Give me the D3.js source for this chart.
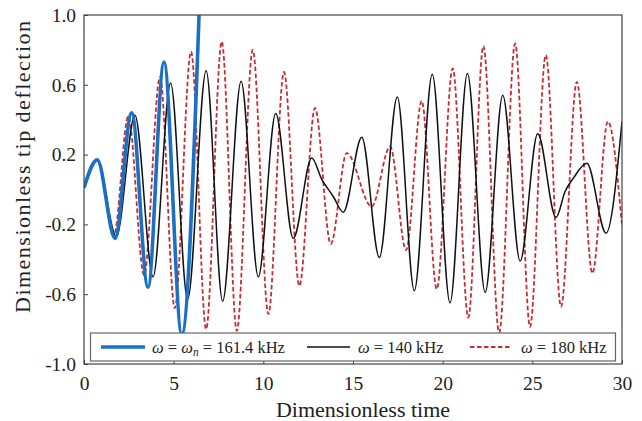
<!DOCTYPE html>
<html lang="en">
<head>
    <meta charset="UTF-8">
    <title>Tip deflection</title>
    <style>
        body { margin: 0; background-color: #fff; }
        svg { display: block; }
    </style>
</head>
<body>
<script src="https://cdnjs.cloudflare.com/ajax/libs/d3/7.8.5/d3.min.js"></script>
<script>

    // values (peaks, troughs and a few shoulder points)
    let timeBlue = [0, 0.74, 1.73, 2.66, 3.57, 4.46, 5.45, 6.45]
    let defBlue  = [0.01, 0.17, -0.28, 0.44, -0.56, 0.73, -0.83, 1.10]

    let timeBlack = [0, 0.74, 1.80, 2.84, 3.85, 4.83, 5.78, 6.81, 7.73, 8.76, 9.72, 10.69, 11.67, 12.70, 13.25, 13.90, 14.46,
                     15.49, 16.47, 17.47, 18.42, 19.42, 20.41, 21.38, 22.37, 23.35, 24.32, 25.30, 26.32, 26.83, 27.29, 28.04, 29.11, 30]
    let defBlack  = [0.01, 0.17, -0.27, 0.425, -0.50, 0.61, -0.63, 0.68, -0.64, 0.62, -0.50, 0.435, -0.28, 0.18, 0.06, -0.04, -0.13,
                     0.30, -0.39, 0.53, -0.58, 0.66, -0.65, 0.665, -0.59, 0.54, -0.41, 0.32, -0.16, -0.01, 0.065, 0.15, -0.25, 0.39]

    let timeRed = [0, 0.74, 1.67, 2.47, 3.35, 4.24, 5.06, 5.97, 6.81, 7.68, 8.52, 9.41, 10.28, 11.15, 12.01, 12.88, 13.76, 14.65,
                   16.04, 17.07, 17.96, 18.83, 19.67, 20.56, 21.43, 22.27, 23.15, 24.04, 24.87, 25.75, 26.60, 27.48, 28.35, 29.21, 30]
    let defRed  = [0.01, 0.17, -0.26, 0.42, -0.49, 0.645, -0.68, 0.79, -0.80, 0.847, -0.81, 0.80, -0.714, 0.674, -0.552, 0.467, -0.312, 0.209,
                   -0.098, 0.247, -0.347, 0.508, -0.571, 0.694, -0.734, 0.822, -0.82, 0.837, -0.787, 0.77, -0.672, 0.617, -0.48, 0.39, -0.207]

    let xTicks = [0, 5, 10, 15, 20, 25, 30]
    let yTicks = [-1.0, -0.6, -0.2, 0.2, 0.6, 1.0]

    let width = 642, height = 421
    let mLeft = 84, mRight = 622, mTop = 15, mBottom = 364
    let serif = "'Liberation Serif', 'DejaVu Serif', 'Times New Roman', serif"

    let svg = d3.select("body").append("svg")
        .attr("width", width)
        .attr("height", height)

    let x = d3.scaleLinear().domain([0, 30]).range([mLeft, mRight])
    let y = d3.scaleLinear().domain([-1, 1]).range([mBottom, mTop])

    svg.append("clipPath").attr("id", "plot")
        .append("rect")
            .attr("x", mLeft).attr("y", mTop)
            .attr("width", mRight - mLeft).attr("height", mBottom - mTop)

    let line = d3.line()
        .x(d => x(d[0]))
        .y(d => y(d[1]))
        .curve(d3.curveMonotoneX)

    let series = [
        {t: timeRed, v: defRed, color: "#c62d32", w: 1.8, dash: "4.5,2.5"},
        {t: timeBlack, v: defBlack, color: "#111", w: 1.5, dash: null},
        {t: timeBlue, v: defBlue, color: "#1c70c3", w: 3.6, dash: null}
    ]

    let g = svg.append("g").attr("clip-path", "url(#plot)")
    series.forEach(s => {
        g.append("path")
            .datum(s.t.map((t, i) => [t, s.v[i]]))
            .attr("fill", "none")
            .attr("stroke", s.color)
            .attr("stroke-width", s.w)
            .attr("stroke-dasharray", s.dash)
            .attr("stroke-linejoin", "round")
            .attr("d", line)
    })

    // axes, ticks inside
    let xAxis = d3.axisBottom(x).tickValues(xTicks).tickSizeInner(-4).tickSizeOuter(0).tickPadding(12)
    let yAxis = d3.axisLeft(y).tickValues(yTicks).tickSizeInner(-4).tickSizeOuter(0).tickPadding(8)
        .tickFormat(d => d3.format(".1f")(d).replace("\u2212", "-"))

    let gx = svg.append("g").attr("transform", `translate(0,${mBottom})`).call(xAxis)
    let gy = svg.append("g").attr("transform", `translate(${mLeft},0)`).call(yAxis)
    ;[gx, gy].forEach(a => {
        a.attr("font-family", null).attr("font-size", null)
        a.select(".domain").remove()
        a.selectAll("line").attr("stroke", "#444")
        a.selectAll("text")
            .style("font-family", serif)
            .style("font-size", "19.5px")
            .attr("fill", "#222")
    })

    svg.append("rect")
        .attr("x", mLeft).attr("y", mTop)
        .attr("width", mRight - mLeft).attr("height", mBottom - mTop)
        .attr("fill", "none")
        .attr("stroke", "#444")
        .attr("stroke-width", 1.2)

    // legend
    let lg = svg.append("g")
    lg.append("rect")
        .attr("x", 90.5).attr("y", 333)
        .attr("width", 525).attr("height", 28)
        .attr("fill", "#fff")
        .attr("stroke", "#666")
        .attr("stroke-width", 1.2)

    let ly = 347
    lg.append("line").attr("x1", 101).attr("x2", 145).attr("y1", ly).attr("y2", ly)
        .attr("stroke", "#1c70c3").attr("stroke-width", 3.6)
    lg.append("line").attr("x1", 307).attr("x2", 350).attr("y1", ly).attr("y2", ly)
        .attr("stroke", "#111").attr("stroke-width", 1.5)
    lg.append("line").attr("x1", 470).attr("x2", 512).attr("y1", ly).attr("y2", ly)
        .attr("stroke", "#c62d32").attr("stroke-width", 1.8).attr("stroke-dasharray", "4.5,2.5")

    function legendText(xPos) {
        return lg.append("text")
            .attr("x", xPos).attr("y", ly + 5.5)
            .attr("fill", "#222")
            .style("font-family", serif)
            .style("font-size", "16.5px")
    }

    let t1 = legendText(152)
    t1.append("tspan").attr("font-style", "italic").text("ω")
    t1.append("tspan").text(" = ")
    t1.append("tspan").attr("font-style", "italic").text("ω")
    t1.append("tspan").attr("font-style", "italic").style("font-size", "11.5px").attr("dy", 3).text("n")
    t1.append("tspan").attr("dy", -3).text(" = 161.4 kHz")

    let t2 = legendText(358)
    t2.append("tspan").attr("font-style", "italic").text("ω")
    t2.append("tspan").text(" = 140 kHz")

    let t3 = legendText(521)
    t3.append("tspan").attr("font-style", "italic").text("ω")
    t3.append("tspan").text(" = 180 kHz")

    // axis titles
    svg.append("text")
        .attr("x", 363).attr("y", 417)
        .attr("text-anchor", "middle")
        .attr("fill", "#222")
        .style("font-family", serif)
        .style("font-size", "22px")
        .text("Dimensionless time")

    svg.append("text")
        .attr("transform", "translate(30,167) rotate(-90)")
        .attr("text-anchor", "middle")
        .attr("fill", "#222")
        .style("font-family", serif)
        .style("font-size", "22px")
        .attr("textLength", 292)
        .attr("lengthAdjust", "spacing")
        .text("Dimensionless tip deflection")

</script>
</body>
</html>
